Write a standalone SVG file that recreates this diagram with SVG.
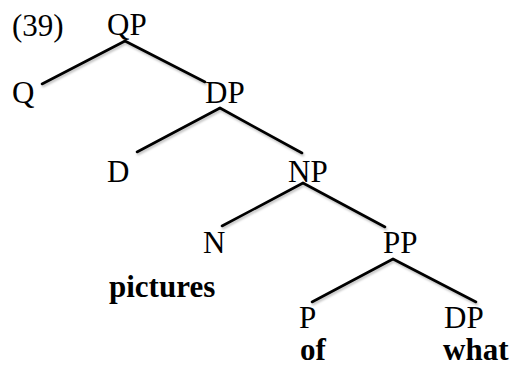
<svg xmlns="http://www.w3.org/2000/svg" width="513" height="366" viewBox="0 0 513 366" font-family="'Liberation Serif', 'Times New Roman', serif">
<defs>
<filter id="sh" x="-10%" y="-10%" width="120%" height="130%">
<feDropShadow dx="1" dy="2" stdDeviation="1" flood-color="#000" flood-opacity="0.25"/>
</filter>
</defs>
<style>
text{font-family:'Liberation Serif','Times New Roman',serif;font-size:31px;fill:#000}
.b{font-weight:bold}
#edges line{stroke:#000;stroke-width:2.6;stroke-linecap:round}
</style>
<rect width="513" height="366" fill="#fff"/>
<text x="12" y="36">(39)</text>
<g id="edges" filter="url(#sh)">
<line x1="125" y1="41" x2="42" y2="84"/>
<line x1="125" y1="41" x2="205" y2="82"/>
<line x1="220" y1="108" x2="137" y2="152"/>
<line x1="220" y1="108" x2="302" y2="153"/>
<line x1="303" y1="183" x2="222" y2="226"/>
<line x1="303" y1="183" x2="385" y2="227"/>
<line x1="393" y1="259" x2="312" y2="302"/>
<line x1="393" y1="259" x2="476" y2="302"/>
</g>
<g id="QP"><text x="107" y="35">QP</text></g>
<g id="Q"><text x="12" y="103">Q</text></g>
<g id="DP1"><text x="205" y="103">DP</text></g>
<g id="D"><text x="107" y="182">D</text></g>
<g id="NP"><text x="288" y="182">NP</text></g>
<g id="N"><text x="203" y="253">N</text><text class="b" x="109" y="297">pictures</text></g>
<g id="PP"><text x="383" y="253">PP</text></g>
<g id="P"><text x="299" y="328">P</text><text class="b" x="300" y="360">of</text></g>
<g id="DP2"><text x="444" y="328">DP</text><text class="b" x="443" y="360">what</text></g>
</svg>
